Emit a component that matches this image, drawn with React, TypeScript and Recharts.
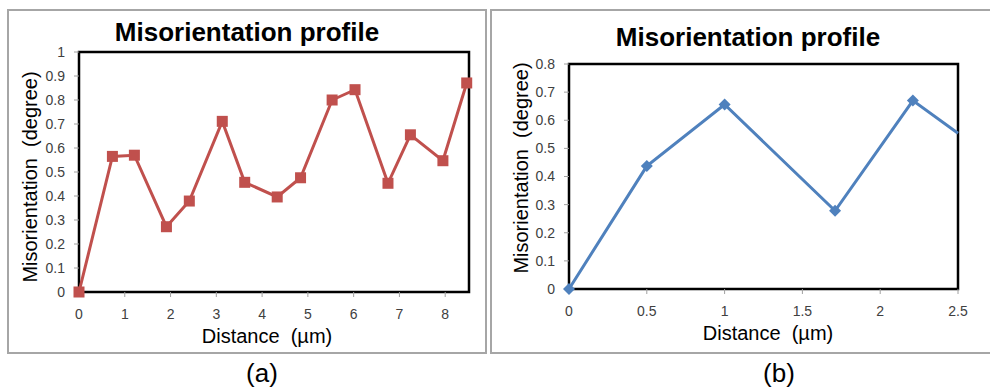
import React from "react";
import { LineChart, Line, XAxis, YAxis, ReferenceArea } from "recharts";

// (a) misorientation profile, long scan
const DIST_A = [0, 0.73, 1.21, 1.91, 2.41, 3.13, 3.62, 4.33, 4.84, 5.53, 6.03, 6.75, 7.24, 7.95, 8.47];
const MIS_A = [0, 0.565, 0.57, 0.272, 0.379, 0.711, 0.457, 0.396, 0.476, 0.8, 0.843, 0.453, 0.655, 0.547, 0.871];
const XTICKS_A = [0, 1, 2, 3, 4, 5, 6, 7, 8];
const YTICKS_A = [0, 0.1, 0.2, 0.3, 0.4, 0.5, 0.6, 0.7, 0.8, 0.9, 1];
const XMAX_A = 8.52;

// (b) misorientation profile, short scan (last point runs off the axis)
const DIST_B = [0, 0.5, 1.0, 1.71, 2.21, 2.5];
const MIS_B = [0, 0.437, 0.656, 0.278, 0.67, 0.554];
const XTICKS_B = [0, 0.5, 1, 1.5, 2, 2.5];
const YTICKS_B = [0, 0.1, 0.2, 0.3, 0.4, 0.5, 0.6, 0.7, 0.8];

const FONT = "'Liberation Sans', Arial, sans-serif";
const tickStyle = { fill: "#404040", fontSize: 14, fontFamily: FONT };

const dataA = DIST_A.map((d, i) => ({ d, v: MIS_A[i] }));
const dataB = DIST_B.map((d, i) => ({ d, v: MIS_B[i] }));

const SquareDot = (p: any) => (
  <rect key={`sq-${p.index}`} x={p.cx - 5.5} y={p.cy - 5.5} width={11} height={11} fill="#C0504D" />
);

const DiamondDot = (p: any) => {
  if (p.index === DIST_B.length - 1) return <g key={`dm-${p.index}`} />;
  const r = 6;
  return (
    <path
      key={`dm-${p.index}`}
      d={`M${p.cx},${p.cy - r}L${p.cx + r},${p.cy}L${p.cx},${p.cy + r}L${p.cx - r},${p.cy}Z`}
      fill="#4F81BD"
    />
  );
};

const abs = (x: number, y: number, extra: React.CSSProperties = {}): React.CSSProperties => ({
  position: "absolute",
  left: x,
  top: y,
  transform: "translate(-50%, -50%)",
  whiteSpace: "pre",
  fontFamily: FONT,
  color: "#000",
  lineHeight: 1,
  ...extra,
});

const axisCommon = {
  axisLine: false,
  tickLine: { stroke: "#a0a0a0" },
  tickSize: 5,
  tick: tickStyle,
  fontSize: 14,
  fontFamily: FONT,
};

export default function App() {
  return (
    <div style={{ position: "absolute", left: 0, top: 0, width: 990, height: 389, background: "#fff", overflow: "hidden" }}>
      {/* frames */}
      <div style={{ position: "absolute", left: 7, top: 9, width: 476, height: 341, border: "2px solid #a6a6a6" }} />
      <div style={{ position: "absolute", left: 490, top: 9, width: 520, height: 341, border: "2px solid #a6a6a6" }} />

      <div style={{ position: "absolute", left: 0, top: 0 }}>
        <LineChart width={490} height={389} data={dataA} margin={{ top: 52, right: 21, bottom: 67, left: 39 }}>
          <ReferenceArea x1={0} x2={XMAX_A} y1={0} y2={1} fill="none" stroke="#000" strokeWidth={2.5} />
          <XAxis dataKey="d" type="number" domain={[0, XMAX_A]} ticks={XTICKS_A} height={30} tickMargin={12} {...axisCommon} />
          <YAxis type="number" domain={[0, 1]} ticks={YTICKS_A} width={40} tickMargin={9} {...axisCommon} />
          <Line dataKey="v" stroke="#C0504D" strokeWidth={3} dot={SquareDot} isAnimationActive={false} />
        </LineChart>
      </div>

      <div style={{ position: "absolute", left: 490, top: 0 }}>
        <LineChart width={500} height={389} data={dataB} margin={{ top: 64, right: 32, bottom: 70, left: 39 }}>
          <ReferenceArea x1={0} x2={2.5} y1={0} y2={0.8} fill="none" stroke="#000" strokeWidth={2.5} />
          <XAxis dataKey="d" type="number" domain={[0, 2.5]} ticks={XTICKS_B} height={30} tickMargin={12} {...axisCommon} />
          <YAxis type="number" domain={[0, 0.8]} ticks={YTICKS_B} width={40} tickMargin={9} {...axisCommon} />
          <Line dataKey="v" stroke="#4F81BD" strokeWidth={3} dot={DiamondDot} isAnimationActive={false} />
        </LineChart>
      </div>

      {/* titles and axis labels */}
      <div style={abs(247, 32, { fontSize: 26, fontWeight: "bold" })}>Misorientation profile</div>
      <div style={abs(748, 37, { fontSize: 26, fontWeight: "bold" })}>Misorientation profile</div>

      <div style={abs(30, 177, { fontSize: 20, transform: "translate(-50%, -50%) rotate(-90deg)" })}>Misorientation  (degree)</div>
      <div style={abs(521, 168, { fontSize: 20, transform: "translate(-50%, -50%) rotate(-90deg)" })}>Misorientation  (degree)</div>

      <div style={abs(267, 336, { fontSize: 20 })}>Distance  (µm)</div>
      <div style={abs(768, 333, { fontSize: 20 })}>Distance  (µm)</div>

      <div style={abs(262, 373, { fontSize: 26 })}>(a)</div>
      <div style={abs(779, 373, { fontSize: 26 })}>(b)</div>
    </div>
  );
}
